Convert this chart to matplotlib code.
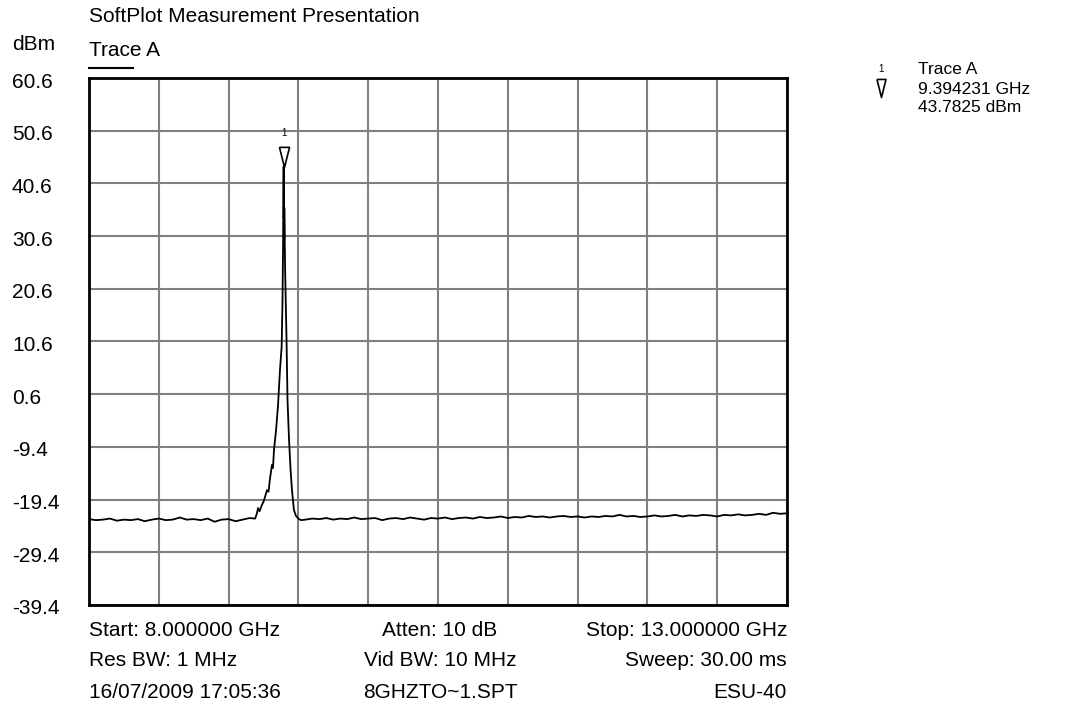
#SoftPlot spectrum trace | re-drawn with matplotlib
import matplotlib
matplotlib.use("Agg")
import matplotlib.pyplot as plt
import matplotlib.transforms as mtransforms
import numpy as np

plt.rcParams['font.family'] = ['Liberation Sans', 'DejaVu Sans']

#trace readings (GHz, dBm)
floor_left_f = [8.00, 8.05, 8.10, 8.15, 8.20, 8.25, 8.30, 8.35, 8.40, 8.45, 8.50, 8.55,
                8.60, 8.65, 8.70, 8.75, 8.80, 8.85, 8.90, 8.95, 9.00, 9.05, 9.10, 9.15]
floor_left_db = [-23.1, -23.3, -23.2, -23.0, -23.4, -23.2, -23.3, -23.1, -23.5, -23.2, -23.0, -23.3,
                 -23.2, -22.8, -23.2, -23.1, -23.3, -23.0, -23.6, -23.2, -23.1, -23.5, -23.2, -22.9]

peak_f = [9.190, 9.203, 9.211, 9.222, 9.239, 9.250, 9.261, 9.275, 9.286, 9.297, 9.311, 9.318,
          9.325, 9.340, 9.354, 9.368, 9.380, 9.386, 9.390, 9.394231, 9.3955, 9.397, 9.398, 9.399,
          9.405, 9.415, 9.422, 9.433, 9.444, 9.454, 9.468, 9.483, 9.504, 9.520]
peak_db = [-23.0, -22.0, -21.0, -21.6, -20.4, -19.8, -18.9, -17.6, -17.9, -15.3, -12.8, -13.4,
           -10.0, -6.2, -1.5, 5.2, 9.6, 18.0, 28.0, 43.7825, 34.0, 40.0, 30.0, 36.0,
           24.0, 10.9, -0.5, -8.1, -13.8, -17.6, -21.4, -22.5, -23.1, -23.3]

floor_right_f = [9.55, 9.60, 9.65, 9.70, 9.75, 9.80, 9.85, 9.90, 9.95, 10.00,
                 10.05, 10.10, 10.15, 10.20, 10.25, 10.30, 10.35, 10.40, 10.45, 10.50,
                 10.55, 10.60, 10.65, 10.70, 10.75, 10.80, 10.85, 10.90, 10.95, 11.00,
                 11.05, 11.10, 11.15, 11.20, 11.25, 11.30, 11.35, 11.40, 11.45, 11.50,
                 11.55, 11.60, 11.65, 11.70, 11.75, 11.80, 11.85, 11.90, 11.95, 12.00,
                 12.05, 12.10, 12.15, 12.20, 12.25, 12.30, 12.35, 12.40, 12.45, 12.50,
                 12.55, 12.60, 12.65, 12.70, 12.75, 12.80, 12.85, 12.90, 12.95, 13.00]
floor_right_db = [-23.2, -23.0, -23.1, -22.9, -23.2, -23.0, -23.1, -22.8, -23.1, -23.0,
                  -22.9, -23.3, -23.0, -22.9, -23.1, -22.8, -23.0, -23.2, -22.9, -23.0,
                  -22.8, -23.1, -22.9, -22.8, -23.0, -22.7, -22.9, -22.8, -22.6, -22.9,
                  -22.7, -22.8, -22.5, -22.7, -22.6, -22.8, -22.6, -22.5, -22.7, -22.6,
                  -22.8, -22.6, -22.7, -22.5, -22.6, -22.3, -22.6, -22.5, -22.7, -22.6,
                  -22.4, -22.6, -22.5, -22.3, -22.6, -22.4, -22.5, -22.3, -22.4, -22.6,
                  -22.3, -22.4, -22.2, -22.4, -22.3, -22.1, -22.3, -21.9, -22.1, -22.0]

#marker 1
marker_f = 9.394231
marker_db = 43.7825

#axis scale
y_ticks = [60.6, 50.6, 40.6, 30.6, 20.6, 10.6, 0.6, -9.4, -19.4, -29.4, -39.4]
y_labels = ["60.6", "50.6", "40.6", "30.6", "20.6", "10.6", "0.6", "-9.4", "-19.4", "-29.4", "-39.4"]
x_start, x_stop = 8.0, 13.0

#settings block under the plot (left, middle, right)
info_left = ["Start: 8.000000 GHz", "Res BW: 1 MHz", "16/07/2009 17:05:36"]
info_mid = ["Atten: 10 dB", "Vid BW: 10 MHz", "8GHZTO~1.SPT"]
info_right = ["Stop: 13.000000 GHz", "Sweep: 30.00 ms", "ESU-40"]

W, H = 1066, 704
fig = plt.figure(figsize=(W / 100, H / 100), dpi=100)
ax = fig.add_axes([89 / W, 1 - 605 / H, 698 / W, 527 / H])

def px(x, y):
    #pixel position -> figure fraction
    return x / W, 1 - y / H

freq = np.array(floor_left_f + peak_f + floor_right_f)
level = np.array(floor_left_db + peak_db + floor_right_db)
ax.plot(freq, level, color="black", lw=1.3, zorder=3)

#inverted open triangle with its tip on the peak
tri = [(-0.25, 1), (0.25, 1), (0, 0), (-0.25, 1)]
ax.plot([marker_f], [marker_db], marker=tri, markersize=29, markerfacecolor="white",
        markeredgecolor="black", markeredgewidth=1.2, linestyle="none", zorder=4)
ax.annotate("1", (marker_f, marker_db), xytext=(0, 34), textcoords="offset pixels",
            ha="center", va="center", fontsize=7)

ax.set_xlim(x_start, x_stop)
ax.set_ylim(y_ticks[-1], y_ticks[0])
ax.set_xticks([x_start + 0.5 * i for i in range(11)])
ax.set_yticks(y_ticks)
ax.set_xticklabels([])
ax.set_yticklabels([])
ax.tick_params(length=0)
ax.grid(True, color="#808080", lw=1.5)
ax.set_axisbelow(True)
for s in ax.spines.values():
    s.set_linewidth(2)
    s.set_color("black")

#y labels, left aligned, a bit under each grid line
trans = mtransforms.blended_transform_factory(fig.transFigure, ax.transData)
trans = trans + mtransforms.ScaledTranslation(0, -4 / 100, fig.dpi_scale_trans)
for v, lab in zip(y_ticks, y_labels):
    fig.text(12 / W, v, lab, transform=trans, ha="left", va="center", fontsize=15)

fs = 15
fig.text(*px(89, 17), "SoftPlot Measurement Presentation", ha="left", va="center", fontsize=fs)
fig.text(*px(12, 45), "dBm", ha="left", va="center", fontsize=fs)
fig.text(*px(89, 50), "Trace A", ha="left", va="center", fontsize=fs)
fig.add_artist(plt.Line2D([89 / W, 133 / W], [1 - 68 / H, 1 - 68 / H], color="black", lw=1.5))

for i, y in enumerate([630, 661, 692]):
    fig.text(*px(89, y), info_left[i], ha="left", va="center", fontsize=fs)
    fig.text(*px(440, y), info_mid[i], ha="center", va="center", fontsize=fs)
    fig.text(*px(787, y), info_right[i], ha="right", va="center", fontsize=fs)

#marker readout, top right
fig.text(*px(881, 69), "1", ha="center", va="center", fontsize=7)
fig.text(*px(918, 69), "Trace A", ha="left", va="center", fontsize=12.5)
fig.text(*px(918, 89), "%.6f GHz" % marker_f, ha="left", va="center", fontsize=12.5)
fig.text(*px(918, 107), "%.4f dBm" % marker_db, ha="left", va="center", fontsize=12.5)
fig.add_artist(plt.Line2D([881 / W], [1 - 97 / H], marker=tri, markersize=26,
                          markerfacecolor="white", markeredgecolor="black", markeredgewidth=1.2))

fig.savefig("out.png", dpi=100, facecolor="white")
